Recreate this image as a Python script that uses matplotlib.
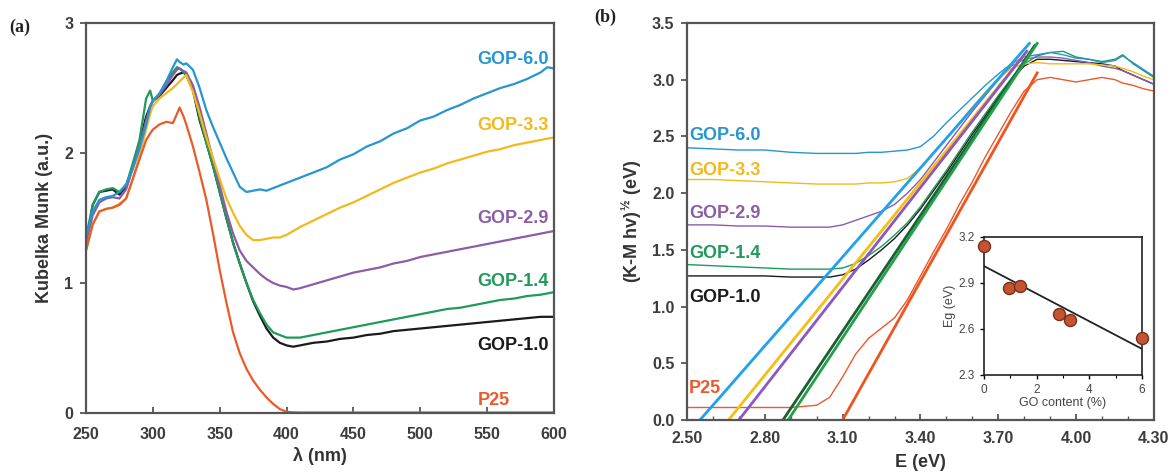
import matplotlib
matplotlib.use("Agg")
import matplotlib.pyplot as plt
from matplotlib.ticker import MultipleLocator

plt.rcParams['font.family'] = ['Liberation Sans', 'DejaVu Sans']
plt.rcParams['mathtext.fontset'] = 'custom'
plt.rcParams['mathtext.rm'] = 'Liberation Sans:bold'
plt.rcParams['mathtext.bf'] = 'Liberation Sans:bold'

# ---------------- (a) Kubelka-Munk spectra ----------------
wl = [250, 255, 260, 265, 270, 275, 280, 285, 290, 295, 298, 300, 305, 310, 315, 318,
      320, 323, 325, 330, 335, 340, 345, 350, 355, 360, 365, 370, 375, 380, 385,
      390, 395, 400, 405, 410, 420, 430, 440, 450, 460, 470, 480, 490, 500, 510,
      520, 530, 540, 550, 560, 570, 580, 590, 595, 600]

km_gop60 = [1.35, 1.55, 1.64, 1.66, 1.67, 1.70, 1.76, 1.88, 2.03, 2.22, 2.35, 2.40, 2.46, 2.55, 2.66, 2.72,
            2.70, 2.68, 2.69, 2.64, 2.50, 2.33, 2.20, 2.08, 1.96, 1.85, 1.74, 1.70, 1.71, 1.72, 1.71,
            1.73, 1.75, 1.77, 1.79, 1.81, 1.85, 1.89, 1.95, 1.99, 2.05, 2.09, 2.15, 2.19, 2.25, 2.28,
            2.33, 2.37, 2.42, 2.46, 2.50, 2.53, 2.57, 2.62, 2.66, 2.65]
km_gop33 = [1.25, 1.45, 1.55, 1.57, 1.58, 1.61, 1.65, 1.80, 1.98, 2.18, 2.30, 2.36, 2.42, 2.46, 2.50, 2.53,
            2.55, 2.58, 2.60, 2.47, 2.30, 2.12, 1.96, 1.80, 1.65, 1.54, 1.44, 1.37, 1.33, 1.33, 1.34,
            1.35, 1.35, 1.37, 1.40, 1.43, 1.48, 1.53, 1.58, 1.62, 1.67, 1.72, 1.77, 1.81, 1.85, 1.88,
            1.92, 1.95, 1.98, 2.01, 2.03, 2.06, 2.08, 2.10, 2.11, 2.12]
km_gop29 = [1.30, 1.52, 1.62, 1.65, 1.66, 1.65, 1.72, 1.88, 2.05, 2.25, 2.36, 2.40, 2.45, 2.52, 2.60, 2.64,
            2.65, 2.63, 2.62, 2.52, 2.35, 2.15, 1.95, 1.75, 1.55, 1.38, 1.25, 1.17, 1.12, 1.07, 1.03,
            1.00, 0.98, 0.97, 0.95, 0.96, 0.99, 1.02, 1.05, 1.08, 1.10, 1.12, 1.15, 1.17, 1.20, 1.22,
            1.24, 1.26, 1.28, 1.30, 1.32, 1.34, 1.36, 1.38, 1.39, 1.40]
km_gop14 = [1.35, 1.60, 1.70, 1.72, 1.73, 1.70, 1.75, 1.92, 2.10, 2.42, 2.48, 2.40, 2.45, 2.55, 2.62, 2.66,
            2.65, 2.62, 2.60, 2.50, 2.27, 2.08, 1.90, 1.70, 1.50, 1.31, 1.15, 1.00, 0.87, 0.77, 0.68,
            0.62, 0.60, 0.58, 0.58, 0.58, 0.60, 0.62, 0.64, 0.66, 0.68, 0.70, 0.72, 0.74, 0.76, 0.78,
            0.80, 0.81, 0.83, 0.85, 0.87, 0.88, 0.90, 0.91, 0.92, 0.93]
km_gop10 = [1.30, 1.60, 1.70, 1.71, 1.72, 1.68, 1.74, 1.90, 2.08, 2.28, 2.36, 2.40, 2.44, 2.50, 2.56, 2.60,
            2.61, 2.62, 2.60, 2.48, 2.25, 2.08, 1.90, 1.70, 1.50, 1.31, 1.15, 1.00, 0.86, 0.75, 0.65,
            0.58, 0.54, 0.52, 0.51, 0.52, 0.54, 0.55, 0.57, 0.58, 0.60, 0.61, 0.63, 0.64, 0.65, 0.66,
            0.67, 0.68, 0.69, 0.70, 0.71, 0.72, 0.73, 0.74, 0.74, 0.74]
km_p25 = [1.25, 1.45, 1.55, 1.57, 1.58, 1.60, 1.65, 1.80, 1.95, 2.10, 2.15, 2.18, 2.22, 2.24, 2.23, 2.30,
          2.35, 2.28, 2.22, 2.05, 1.85, 1.64, 1.38, 1.10, 0.85, 0.62, 0.46, 0.34, 0.25, 0.18, 0.12,
          0.07, 0.03, 0.01, 0.005, 0.004, 0.004, 0.004, 0.004, 0.004, 0.004, 0.004, 0.004, 0.004, 0.004, 0.004,
          0.004, 0.004, 0.004, 0.004, 0.004, 0.004, 0.004, 0.004, 0.004, 0.004]

# ---------------- (b) Tauc plots ----------------
energy = [2.50, 2.60, 2.70, 2.80, 2.90, 3.00, 3.05, 3.10, 3.15, 3.20, 3.25, 3.30, 3.35, 3.40, 3.45,
          3.50, 3.55, 3.60, 3.65, 3.70, 3.75, 3.80, 3.85, 3.90, 3.95, 4.00, 4.05, 4.10, 4.15, 4.18,
          4.22, 4.26, 4.30]

tauc_gop60 = [2.40, 2.39, 2.38, 2.38, 2.36, 2.35, 2.35, 2.35, 2.35, 2.36, 2.36, 2.37, 2.38, 2.41, 2.50,
              2.62, 2.73, 2.84, 2.95, 3.05, 3.14, 3.20, 3.22, 3.24, 3.22, 3.19, 3.18, 3.15, 3.17, 3.21,
              3.15, 3.09, 3.03]
tauc_gop33 = [2.12, 2.12, 2.11, 2.10, 2.09, 2.08, 2.08, 2.08, 2.08, 2.09, 2.09, 2.10, 2.13, 2.22, 2.35,
              2.48, 2.62, 2.76, 2.89, 3.01, 3.10, 3.14, 3.15, 3.14, 3.14, 3.14, 3.14, 3.13, 3.12, 3.10,
              3.07, 3.03, 3.00]
tauc_gop29 = [1.72, 1.72, 1.71, 1.71, 1.70, 1.70, 1.70, 1.72, 1.76, 1.80, 1.84, 1.90, 2.00, 2.12, 2.27,
              2.42, 2.57, 2.72, 2.86, 3.00, 3.12, 3.18, 3.20, 3.20, 3.19, 3.17, 3.15, 3.12, 3.10, 3.08,
              3.04, 3.00, 2.96]
tauc_gop14 = [1.37, 1.36, 1.35, 1.34, 1.33, 1.33, 1.33, 1.34, 1.38, 1.45, 1.53, 1.63, 1.74, 1.88, 2.04,
              2.20, 2.37, 2.54, 2.70, 2.86, 3.01, 3.14, 3.21, 3.24, 3.25, 3.20, 3.18, 3.16, 3.18, 3.22,
              3.14, 3.08, 3.02]
tauc_gop10 = [1.27, 1.27, 1.27, 1.27, 1.26, 1.26, 1.26, 1.28, 1.33, 1.41, 1.50, 1.60, 1.72, 1.86, 2.02,
              2.18, 2.35, 2.52, 2.68, 2.85, 3.00, 3.12, 3.18, 3.18, 3.17, 3.16, 3.15, 3.14, 3.12, 3.08,
              3.04, 3.00, 2.96]
tauc_p25 = [0.11, 0.11, 0.11, 0.11, 0.11, 0.13, 0.20, 0.38, 0.58, 0.72, 0.81, 0.90, 1.06, 1.27, 1.48,
            1.68, 1.90, 2.10, 2.32, 2.52, 2.72, 2.90, 3.00, 3.02, 3.00, 2.98, 3.00, 3.02, 3.00, 2.97,
            2.95, 2.92, 2.90]

# Linear extrapolations: (x-intercept, end energy, end value)
fit_gop60 = (2.55, 3.82, 3.32)
fit_gop33 = (2.66, 3.80, 3.22)
fit_gop29 = (2.70, 3.81, 3.25)
fit_gop14 = (2.89, 3.85, 3.32)
fit_gop10 = (2.87, 3.84, 3.30)
fit_p25 = (3.10, 3.85, 3.06)

# ---------------- inset: band gap vs GO content ----------------
go_content = [0.0, 0.95, 1.35, 2.85, 3.25, 6.0]
band_gap = [3.14, 2.87, 2.88, 2.70, 2.66, 2.54]
trend_x = [0.0, 6.0]
trend_y = [3.01, 2.47]

names = ['GOP-6.0', 'GOP-3.3', 'GOP-2.9', 'GOP-1.4', 'GOP-1.0', 'P25']
colors = ['#2596d1', '#f3b91c', '#8b5ca8', '#1e9a5a', '#1a1a1a', '#ea5a2c']
fit_colors = ['#1fa2ea', '#f7be12', '#8c57c4', '#22a04a', '#1b5e33', '#f0541e']

label_y_a = [2.72, 2.21, 1.50, 1.01, 0.52, 0.10]
label_y_b = [2.51, 2.20, 1.82, 1.47, 1.08, 0.28]

spine_col = '#555555'
tick_col = '#3d3d3d'

fig = plt.figure(figsize=(11.73, 4.73), dpi=100)

# ---- panel (a)
ax1 = fig.add_axes([0.0733, 0.1268, 0.399, 0.8246])
for y, c in zip([km_gop10, km_gop14, km_gop29, km_gop33, km_gop60, km_p25],
                [colors[4], colors[3], colors[2], colors[1], colors[0], colors[5]]):
    ax1.plot(wl, y, color=c, lw=1.6)
ax1.set_xlim(250, 600)
ax1.set_ylim(0, 3)
ax1.set_xticks([250, 300, 350, 400, 450, 500, 550, 600])
ax1.set_yticks([0, 1, 2, 3])
ax1.set_xlabel('λ (nm)', fontsize=13, fontweight='bold', color='#333333', labelpad=4)
ax1.set_ylabel('Kubelka Munk (a.u.)', fontsize=13, fontweight='bold', color='#333333', labelpad=8)
for n, c, yy in zip(names, colors, label_y_a):
    if n == 'P25':
        ax1.text(543, yy, n, color=c, fontsize=13, fontweight='bold', ha='left', va='center')
    else:
        ax1.text(596, yy, n, color=c, fontsize=13, fontweight='bold', ha='right', va='center')

# ---- panel (b)
ax2 = fig.add_axes([0.5857, 0.1121, 0.398, 0.8393])
for y, c in zip([tauc_gop10, tauc_gop14, tauc_gop29, tauc_gop33, tauc_gop60, tauc_p25],
                [colors[4], colors[3], colors[2], colors[1], colors[0], colors[5]]):
    ax2.plot(energy, y, color=c, lw=1.0)
for f, c in zip([fit_gop60, fit_gop33, fit_gop29, fit_gop10, fit_gop14, fit_p25],
                [fit_colors[0], fit_colors[1], fit_colors[2], fit_colors[4], fit_colors[3], fit_colors[5]]):
    ax2.plot([f[0], f[1]], [0, f[2]], color=c, lw=2.0)
ax2.set_xlim(2.5, 4.3)
ax2.set_ylim(0, 3.5)
ax2.set_xticks([2.5, 2.8, 3.1, 3.4, 3.7, 4.0, 4.3])
ax2.set_xticklabels(['2.50', '2.80', '3.10', '3.40', '3.70', '4.00', '4.30'])
ax2.xaxis.set_minor_locator(MultipleLocator(0.1))
ax2.set_yticks([0, 0.5, 1.0, 1.5, 2.0, 2.5, 3.0, 3.5])
ax2.set_yticklabels(['0.0', '0.5', '1.0', '1.5', '2.0', '2.5', '3.0', '3.5'])
ax2.set_xlabel('E (eV)', fontsize=13, fontweight='bold', color='#333333', labelpad=6)
ax2.set_ylabel('(K-M hv)$^{\\mathregular{½}}$ (eV)', fontsize=13, fontweight='bold',
               color='#333333', labelpad=6)
for n, c, yy in zip(names, colors, label_y_b):
    ax2.text(2.508, yy, n, color=c, fontsize=13, fontweight='bold', ha='left', va='center')

for ax, xpad in ((ax1, 10), (ax2, 8)):
    for s in ax.spines.values():
        s.set_color(spine_col)
        s.set_linewidth(1.6)
    ax.tick_params(axis='both', which='major', labelsize=11.5, colors=spine_col,
                   labelcolor=tick_col, width=1.3, length=4)
    ax.tick_params(axis='x', which='both', direction='in', pad=xpad)
    ax.tick_params(axis='y', which='major', pad=5)
    ax.tick_params(axis='x', which='minor', length=3, width=1.0, colors=spine_col)
    for lab in ax.get_xticklabels() + ax.get_yticklabels():
        lab.set_fontweight('bold')

# ---- inset
ax3 = fig.add_axes([0.8389, 0.2072, 0.1347, 0.2918])
ax3.plot(trend_x, trend_y, color='#222222', lw=1.3)
ax3.scatter(go_content, band_gap, s=75, color='#c4532f', edgecolors='#7a2e1a',
            linewidths=1.0, zorder=3, clip_on=False)
ax3.set_xlim(0, 6)
ax3.set_ylim(2.3, 3.2)
ax3.set_xticks([0, 2, 4, 6])
ax3.set_yticks([2.3, 2.6, 2.9, 3.2])
ax3.xaxis.set_minor_locator(MultipleLocator(1))
ax3.tick_params(axis='both', which='major', labelsize=8.5, labelcolor='#444444', length=3, width=1.0)
ax3.tick_params(axis='x', which='minor', length=2, width=0.8)
ax3.set_xlabel('GO content (%)', fontsize=9, color='#444444', labelpad=1)
ax3.set_ylabel('Eg (eV)', fontsize=9, color='#444444', labelpad=2)
for s in ax3.spines.values():
    s.set_color('#222222')
    s.set_linewidth(1.2)

fig.text(20 / 1173, 1 - 27 / 473, '(a)', fontsize=13, fontweight='bold', family='Liberation Serif',
         ha='center', va='center', color='#222222')
fig.text(605 / 1173, 1 - 17 / 473, '(b)', fontsize=13, fontweight='bold', family='Liberation Serif',
         ha='center', va='center', color='#222222')

fig.savefig('out.png', dpi=100, facecolor='white')
